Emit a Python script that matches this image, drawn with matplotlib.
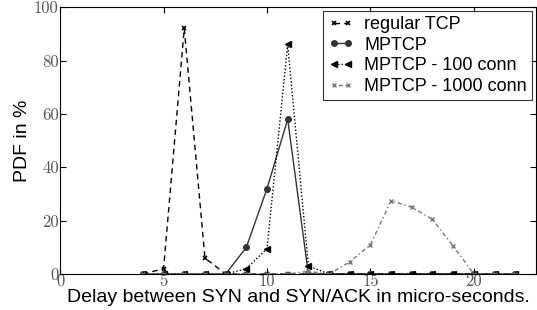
import matplotlib
matplotlib.use('Agg')
import matplotlib.pyplot as plt

# delay in micro-seconds
delay = list(range(4, 23))
regular_tcp = [0, 2, 92, 6, 0, 0, 0, 0, 0, 0, 0, 0, 0, 0, 0, 0, 0, 0, 0]
mptcp = [0, 0, 0, 0, 0, 10, 32, 58, 0, 0, 0, 0, 0, 0, 0, 0, 0, 0, 0]
mptcp_100 = [0, 0, 0, 0, 0, 2, 9.5, 86, 3, 0, 0, 0, 0, 0, 0, 0, 0, 0, 0]
mptcp_1000 = [0, 0, 0, 0, 0, 0, 0, 0, 1, 0, 4.5, 11, 27.5, 25, 20.5, 10.5, 0, 0, 0]

xticks = [0, 5, 10, 15, 20]
yticks = [0, 20, 40, 60, 80, 100]

plt.rcParams['font.family'] = 'Liberation Sans'

fig = plt.figure(figsize=(5.37, 3.10), dpi=100)
ax = fig.add_axes([0.112, 0.116, 0.886, 0.861])

ax.plot(delay, regular_tcp, color='black', linestyle=(0, (4, 3)), lw=1.0,
        marker='x', ms=3.5, mew=1.2, label='regular TCP')
ax.plot(delay, mptcp, color='#333333', linestyle='-', lw=1.0,
        marker='o', ms=4, label='MPTCP')
ax.plot(delay, mptcp_100, color='black', linestyle=(0, (1, 1.5)), lw=1.0,
        marker='<', ms=4, label='MPTCP - 100 conn')
ax.plot(delay, mptcp_1000, color='#777777', linestyle=(0, (1, 2, 3, 2)), lw=1.0,
        marker='x', ms=3.5, mew=1.0, label='MPTCP - 1000 conn')

ax.set_xlim(0, 23)
ax.set_ylim(0, 100)
ax.set_xticks(xticks)
ax.set_yticks(yticks)
ax.set_xticklabels([str(t) for t in xticks], fontfamily='cmr10', fontsize=12, color='#555555')
ax.set_yticklabels([str(t) for t in yticks], fontfamily='cmr10', fontsize=12, color='#555555')
ax.tick_params(direction='in', top=True, right=True, length=4)
ax.tick_params(axis='x', pad=0)
ax.tick_params(axis='y', pad=1)

ax.set_xlabel('Delay between SYN and SYN/ACK in micro-seconds.', fontsize=14, labelpad=0)
ax.set_ylabel('PDF in %', fontsize=14, labelpad=2)

leg = ax.legend(loc='upper right', numpoints=2, fontsize=13, fancybox=False,
                edgecolor='black', handlelength=1.4, handletextpad=0.6,
                labelspacing=0.2, borderpad=0.3, borderaxespad=0.2)
leg.get_frame().set_linewidth(0.8)

fig.savefig('out.png', dpi=100)
